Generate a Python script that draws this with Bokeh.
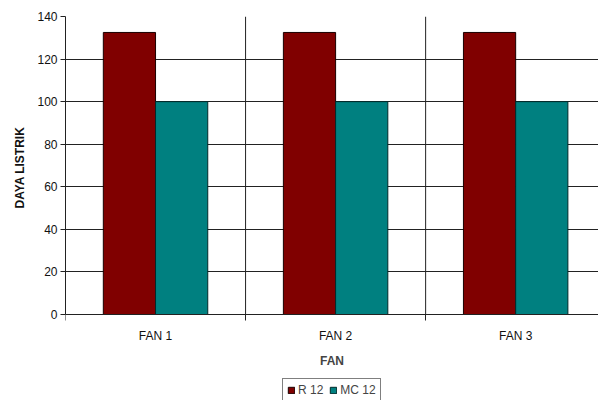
from bokeh.plotting import figure
from bokeh.models import FixedTicker, Legend, LegendItem, Range1d, Title
from bokeh.embed import file_html
from bokeh.resources import INLINE

categories = ["FAN 1", "FAN 2", "FAN 3"]
r12 = [132.5, 132.5, 132.5]
mc12 = [100, 100, 100]
y_ticks = [0, 20, 40, 60, 80, 100, 120, 140]

FONT = "Liberation Sans"
pos = [i + 1 for i in range(len(categories))]
bounds_x = [i + 0.5 for i in range(len(categories) + 1)]
bw = 0.29
ymax = y_ticks[-1]

p = figure(width=598, height=400, output_backend="svg", toolbar_location=None,
           x_range=Range1d(0.5, 3.46), y_range=Range1d(-40.4, ymax),
           min_border_left=65, min_border_right=0, min_border_top=16, min_border_bottom=0)
p.outline_line_color = None
p.background_fill_color = "white"
p.border_fill_color = "white"

# grid
p.xgrid.visible = False
p.ygrid.ticker = FixedTicker(ticks=y_ticks)
p.ygrid.grid_line_color = "#222222"
p.ygrid.grid_line_width = 1
p.ygrid.level = "underlay"
p.segment(x0=bounds_x[1:], x1=bounds_x[1:], y0=[0] * len(categories), y1=[ymax] * len(categories),
          line_color="#222222", line_width=1)

r1 = p.vbar(x=[x - bw / 2 for x in pos], top=r12, width=bw, fill_color="#800000",
            line_color="#1a0000", line_width=1)
r2 = p.vbar(x=[x + bw / 2 for x in pos], top=mc12, width=bw, fill_color="#008080",
            line_color="#002a2a", line_width=1)

# x axis
xa = p.xaxis[0]
xa.fixed_location = 0
xa.bounds = (bounds_x[0], bounds_x[-1])
xa.ticker = FixedTicker(ticks=pos, minor_ticks=bounds_x)
xa.major_label_overrides = {x: c for x, c in zip(pos, categories)}
xa.major_tick_line_color = None
xa.major_tick_out = 0
xa.minor_tick_out = 6
xa.minor_tick_in = 0
xa.minor_tick_line_color = "#222222"
xa.axis_line_color = "#222222"
xa.major_label_text_font = FONT
xa.major_label_text_font_size = "12px"
xa.major_label_text_color = "#111111"
xa.major_label_standoff = 8
xa.axis_label = "FAN"
xa.axis_label_text_font = FONT
xa.axis_label_text_font_size = "12px"
xa.axis_label_text_font_style = "bold"
xa.axis_label_standoff = 8

# y axis
ya = p.yaxis[0]
ya.bounds = (0, ymax)
ya.ticker = FixedTicker(ticks=y_ticks)
ya.minor_tick_line_color = None
ya.major_tick_out = 5
ya.major_tick_in = 0
ya.major_tick_line_color = "#222222"
ya.axis_line_color = "#222222"
ya.major_label_text_font = FONT
ya.major_label_text_font_size = "12px"
ya.major_label_text_color = "#111111"
ya.major_label_standoff = 3

ytitle = Title(text="DAYA LISTRIK", align="left", offset=192, vertical_align="middle",
               text_font=FONT, text_font_size="12px", text_font_style="bold",
               text_color="#111111", standoff=14)
p.add_layout(ytitle, "left")

legend = Legend(items=[LegendItem(label="R 12", renderers=[r1]),
                       LegendItem(label="MC 12", renderers=[r2])],
                orientation="horizontal", location=(217, -2),
                label_text_font=FONT, label_text_font_size="12px",
                glyph_width=8, glyph_height=8, label_standoff=3, spacing=6,
                padding=4, margin=0, border_line_color="black", border_line_width=1,
                label_height=12)
p.add_layout(legend, "center")

open("out.html", "w").write(file_html(p, INLINE))
